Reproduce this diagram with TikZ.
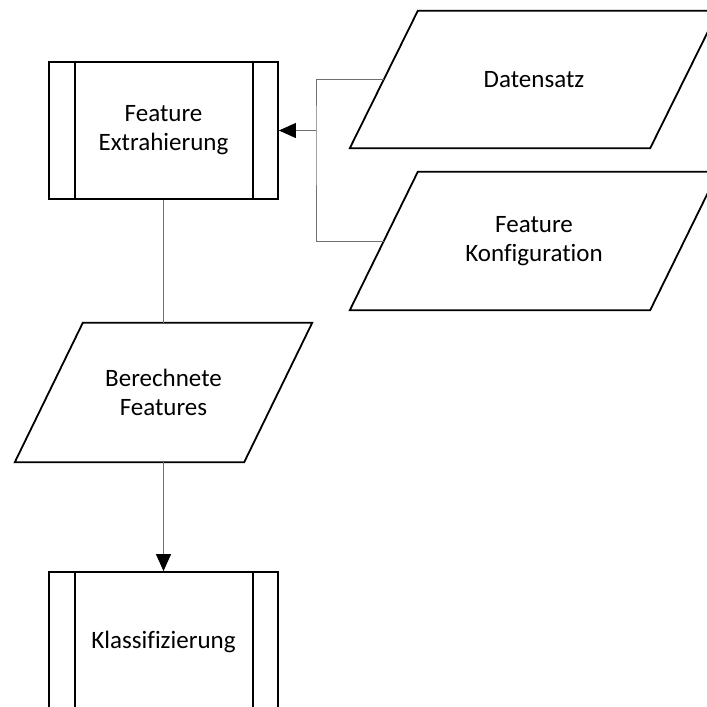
\documentclass[tikz,border=0pt]{standalone}
\usepackage{fontspec}
\setmainfont{Carlito}[Ligatures=NoCommon]
\usetikzlibrary{arrows.meta,calc}
\definecolor{conngray}{RGB}{112,112,112}
\begin{document}
\begin{tikzpicture}[x=1pt,y=-1pt,
  font=\fontsize{25}{29}\selectfont,
  boxline/.style={draw=black,line width=1.8pt},
  subproc/.style={boxline,rectangle,minimum width=229pt,minimum height=137pt,inner sep=0pt,align=center},
  dataarea/.style={rectangle,inner sep=0pt,align=center},
  conn/.style={draw=conngray,line width=1pt},
  tip/.style={-{Triangle[length=17pt,width=15pt,color=black]}}]
\useasboundingbox (0,0) rectangle (707,707);
\clip (0,0) rectangle (707,707);

% predefined processes
\node[subproc] (fe) at (163.5,130.5) {Feature\\Extrahierung};
\node[subproc,minimum height=140pt] (kl) at (163.5,642) {Klassifizierung};
\foreach \n in {fe,kl}{
  \draw[boxline] ([xshift=27pt]\n.north west) -- ([xshift=27pt]\n.south west);
  \draw[boxline] ([xshift=-26pt]\n.north east) -- ([xshift=-26pt]\n.south east);
}

% data (parallelograms)
\node[dataarea,minimum width=368pt,minimum height=137pt] (ds) at (534,79.5) {Datensatz};
\node[dataarea,minimum width=368pt,minimum height=138pt] (fk) at (534,241) {Feature\\Konfiguration};
\node[dataarea,minimum width=297pt,minimum height=139pt] (bf) at (163.5,392.5) {Berechnete\\Features};
\foreach \n in {ds,fk,bf}{
  \draw[boxline] (\n.south west) -- ([xshift=68pt]\n.north west) -- (\n.north east)
    -- ([xshift=-68pt]\n.south east) -- cycle;
}

% inputs on the slanted left edges
\coordinate (dsin) at ($(ds.west)+(34,0)$);
\coordinate (fkin) at ($(fk.west)+(34,0)$);
\coordinate (jx) at (316,130.5);

% connectors
\draw[conn] (dsin) -| (jx) |- (fkin);
\draw[conn,tip] (jx) -- (fe.east);
\draw[conn] (fe.south) -- (bf.north);
\draw[conn,tip] (bf.south) -- (kl.north);
\end{tikzpicture}
\end{document}
